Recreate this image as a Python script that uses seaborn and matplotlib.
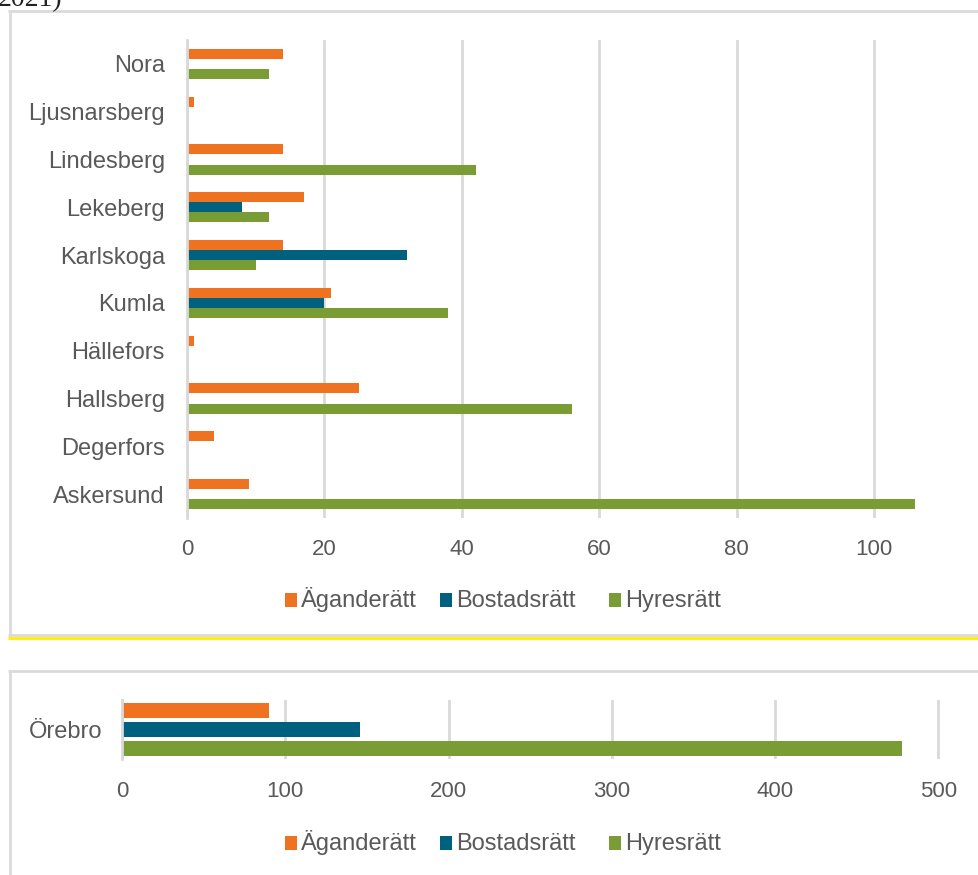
import matplotlib
matplotlib.use("Agg")
import matplotlib.pyplot as plt
from matplotlib.patches import Rectangle
from matplotlib.lines import Line2D
import seaborn as sns
import pandas as pd

# Municipalities in the county (top panel), listed top to bottom
kommuner = ["Nora", "Ljusnarsberg", "Lindesberg", "Lekeberg", "Karlskoga",
            "Kumla", "Hällefors", "Hallsberg", "Degerfors", "Askersund"]
aganderatt = [14, 1, 14, 17, 14, 21, 1, 25, 4, 9]
bostadsratt = [None, None, None, 8, 32, 20, None, None, None, None]
hyresratt = [12, None, 42, 12, 10, 38, None, 56, None, 106]

# Örebro municipality (bottom panel)
orebro_kommun = ["Örebro"]
orebro_aganderatt = [90]
orebro_bostadsratt = [146]
orebro_hyresratt = [478]

upplatelseformer = ["Äganderätt", "Bostadsrätt", "Hyresrätt"]
farger = ["#EE7220", "#00617F", "#799C35"]

top_ticks = [0, 20, 40, 60, 80, 100]
bottom_ticks = [0, 100, 200, 300, 400, 500]


def long_form(names, *series):
    rows = []
    for form, values in zip(upplatelseformer, series):
        for name, v in zip(names, values):
            if v is not None:
                rows.append({"kommun": name, "form": form, "antal": v})
    return pd.DataFrame(rows)


df_top = long_form(kommuner, aganderatt, bostadsratt, hyresratt)
df_bot = long_form(orebro_kommun, orebro_aganderatt, orebro_bostadsratt, orebro_hyresratt)

sns.set_theme(style="white")
plt.rcParams["font.family"] = ["Liberation Sans", "DejaVu Sans"]

W, H = 979, 875
fig = plt.figure(figsize=(W / 100, H / 100), dpi=100)


def ax_rect(left, right, top, bottom):
    return [left / W, 1 - bottom / H, (right - left) / W, (bottom - top) / H]


grid_c = "#d9d9d9"
text_c = "#595959"
palette = dict(zip(upplatelseformer, farger))


def style_axes(ax, ticks, xmax, ypad, xpad):
    ax.set_xlim(0, xmax)
    ax.set_xticks(ticks)
    ax.set_xticklabels([str(t) for t in ticks])
    ax.xaxis.grid(True, color=grid_c, lw=2)
    ax.yaxis.grid(False)
    ax.set_axisbelow(True)
    for s in ["top", "right", "bottom"]:
        ax.spines[s].set_visible(False)
    ax.spines["left"].set_color(grid_c)
    ax.spines["left"].set_linewidth(2)
    ax.tick_params(axis="y", length=0, pad=ypad, labelsize=17, labelcolor=text_c)
    ax.tick_params(axis="x", length=0, pad=xpad, labelsize=16, labelcolor=text_c)
    ax.set_xlabel("")
    ax.set_ylabel("")
    if ax.get_legend() is not None:
        ax.get_legend().remove()


# Top panel
ax1 = fig.add_axes(ax_rect(187, 977, 40, 518))
sns.barplot(data=df_top, y="kommun", x="antal", hue="form", order=kommuner,
            hue_order=upplatelseformer, palette=palette, orient="h",
            width=0.63, errorbar=None, linewidth=0, saturation=1, ax=ax1)
ax1.set_ylim(len(kommuner) - 0.5, -0.5)
style_axes(ax1, top_ticks, 115, 16, 15)

# Bottom panel
ax2 = fig.add_axes(ax_rect(122, 971, 700, 759))
sns.barplot(data=df_bot, y="kommun", x="antal", hue="form", order=orebro_kommun,
            hue_order=upplatelseformer, palette=palette, orient="h",
            width=0.96, gap=0.17, errorbar=None, linewidth=0, saturation=1, ax=ax2)
ax2.set_ylim(0.5, -0.5)
style_axes(ax2, bottom_ticks, 520, 14, 16)


# Legends: colour square followed by label, on a shared baseline
def draw_legend(baseline):
    square_x = [285, 440, 609]
    for sx, color, label in zip(square_x, farger, upplatelseformer):
        fig.add_artist(Rectangle((sx / W, 1 - baseline / H), 12 / W, 14 / H,
                                 transform=fig.transFigure, facecolor=color,
                                 edgecolor="none"))
        fig.text((sx + 16) / W, 1 - baseline / H, label, fontsize=17,
                 color=text_c, ha="left", va="baseline")


draw_legend(607)
draw_legend(850)


# Chart frames
def hline(x0, x1, y, color, lw):
    fig.add_artist(Line2D([x0 / W, x1 / W], [1 - y / H, 1 - y / H],
                          transform=fig.transFigure, color=color, lw=lw,
                          solid_capstyle="butt"))


def vline(x, y0, y1, color, lw):
    fig.add_artist(Line2D([x / W, x / W], [1 - y0 / H, 1 - y1 / H],
                          transform=fig.transFigure, color=color, lw=lw,
                          solid_capstyle="butt"))


frame_c = "#dadada"
hline(8, W, 10.5, frame_c, 2)
vline(9.5, 9.5, 636, frame_c, 2)
hline(8, W, 635, frame_c, 2)
hline(8, W, 638, "#ffee00", 2)
hline(8, W, 671, frame_c, 2)
vline(9.5, 670, H, frame_c, 2)

# Caption fragment above the chart
fig.text(-2 / W, 1 - 6 / H, "2021)", fontsize=20, family=["Liberation Serif", "DejaVu Serif"],
         color="#222222", ha="left", va="baseline")

fig.savefig("out.png", dpi=100)
